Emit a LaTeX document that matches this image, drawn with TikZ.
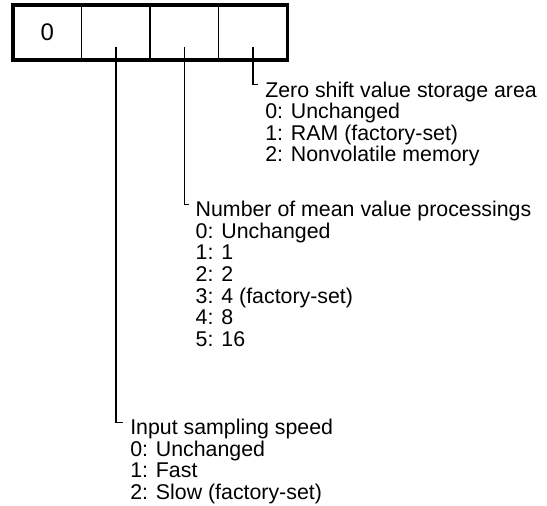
\documentclass[tikz,border=0pt]{standalone}
\usepackage{fontspec}
\setmainfont{Liberation Sans}
\usetikzlibrary{positioning}

\begin{document}
\begin{tikzpicture}[
		cell/.style={draw, line width=1.2pt, minimum width=51.4pt, minimum height=41.25pt, outer sep=0pt, inner sep=0pt, font=\fontsize{18pt}{18pt}\selectfont},
		notes/.style={anchor=north west, align=left, inner sep=0pt, font=\fontsize{16pt}{16.2pt}\selectfont},
		wire/.style={line width=1.2pt}
		]
		
		\useasboundingbox (0,0) rectangle (410.25pt,-379.5pt);
		
		% Felder
		\node[cell] (c1) at (35.44pt,-24.38pt) {\raisebox{-3.5pt}{0}};
		\node[cell, right=0pt of c1] (c2) {};
		\node[cell, right=0pt of c2] (c3) {};
		\node[cell, right=0pt of c3] (c4) {};
		\draw[line width=2.4pt] (c1.north west) rectangle (c4.south east);
		
		% Beschreibungen
		\node[notes] (zero) at (198.75pt,-61pt) {Zero shift value storage area\\0: Unchanged\\1: RAM (factory-set)\\2: Nonvolatile memory};
		\node[notes] (mean) at (146.6pt,-150.75pt) {Number of mean value processings\\0: Unchanged\\1: 1\\2: 2\\3: 4 (factory-set)\\4: 8\\5: 16};
		\node[notes] (speed) at (97.5pt,-314.25pt) {Input sampling speed\\0: Unchanged\\1: Fast\\2: Slow (factory-set)};
		
		% Verbindungen
		\draw[wire] ([yshift=-10.9pt]c4.center) |- ([xshift=-5pt,yshift=-2.5pt]zero.north west);
		\draw[wire] ([yshift=-10.9pt]c3.center) |- ([xshift=-5pt,yshift=-2.5pt]mean.north west);
		\draw[wire] ([yshift=-10.9pt]c2.center) |- ([xshift=-5pt,yshift=-2.5pt]speed.north west);
		
\end{tikzpicture}
\end{document}
